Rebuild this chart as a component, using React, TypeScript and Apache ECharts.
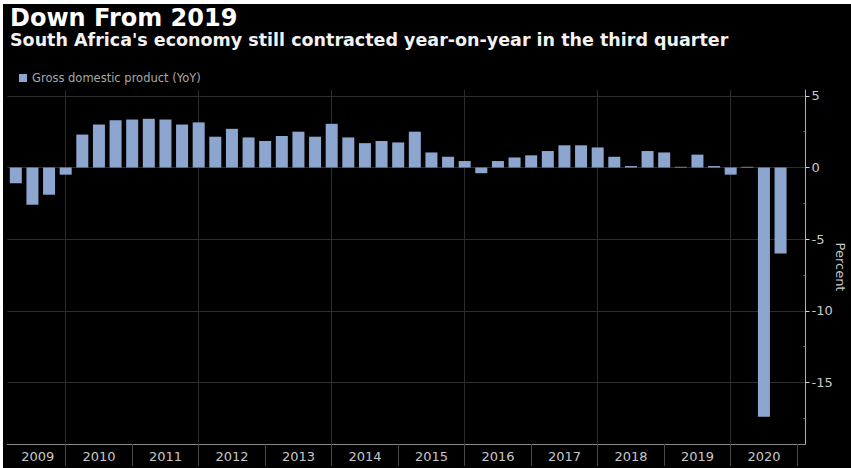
import React, { useEffect, useRef } from "react";
import * as echarts from "echarts";

const quarters = [
  "2009Q1", "2009Q2", "2009Q3", "2009Q4",
  "2010Q1", "2010Q2", "2010Q3", "2010Q4",
  "2011Q1", "2011Q2", "2011Q3", "2011Q4",
  "2012Q1", "2012Q2", "2012Q3", "2012Q4",
  "2013Q1", "2013Q2", "2013Q3", "2013Q4",
  "2014Q1", "2014Q2", "2014Q3", "2014Q4",
  "2015Q1", "2015Q2", "2015Q3", "2015Q4",
  "2016Q1", "2016Q2", "2016Q3", "2016Q4",
  "2017Q1", "2017Q2", "2017Q3", "2017Q4",
  "2018Q1", "2018Q2", "2018Q3", "2018Q4",
  "2019Q1", "2019Q2", "2019Q3", "2019Q4",
  "2020Q1", "2020Q2", "2020Q3", "2020Q4",
];

const gdpYoY: (number | null)[] = [
  -1.1, -2.6, -1.9, -0.5,
  2.3, 3.0, 3.3, 3.35,
  3.4, 3.35, 3.0, 3.15,
  2.15, 2.7, 2.1, 1.85,
  2.2, 2.5, 2.15, 3.05,
  2.1, 1.7, 1.85, 1.75,
  2.5, 1.05, 0.75, 0.45,
  -0.4, 0.45, 0.7, 0.85,
  1.15, 1.55, 1.55, 1.4,
  0.75, 0.1, 1.15, 1.05,
  0.05, 0.9, 0.1, -0.5,
  0.05, -17.4, -6.0, null,
];

const years = [2009, 2010, 2011, 2012, 2013, 2014, 2015, 2016, 2017, 2018, 2019, 2020];
const yTickValues = [5, 0, -5, -10, -15];
const yMinorTickValues = [2.5, -2.5, -7.5, -12.5, -17.5];

const TITLE = "Down From 2019";
const SUBTITLE = "South Africa's economy still contracted year-on-year in the third quarter";
const SERIES_NAME = "Gross domestic product (YoY)";
const Y_NAME = "Percent";

const FONT = '"DejaVu Sans", sans-serif';

export default function App() {
  const ref = useRef<HTMLDivElement>(null);

  useEffect(() => {
    document.body.style.margin = "0";
    const chart = echarts.init(ref.current!, undefined, { renderer: "svg" });
    // time axis geometry: category i (quarter-end) sits at 2009 + (i+1)/4
    const tMin = years[0] + 0.125;
    const tMax = years[years.length - 1] + 1.125;
    const yearTicks = years.map((y) => y + 1);
    const gridYears = years.filter((y) => (y + 1) % 2 === 0).map((y) => y + 1);
    const labelPos = years.map((y, i) => (i === 0 ? y + 0.58 : y + 0.5));

    const option: any = {
      animation: false,
      backgroundColor: "transparent",
      textStyle: { fontFamily: FONT },
      graphic: [
        {
          type: "text",
          left: 10,
          top: 6,
          style: { text: TITLE, fill: "#ffffff", font: `bold 24px ${FONT}`, lineHeight: 24 },
        },
        {
          type: "text",
          left: 10,
          top: 31,
          style: { text: SUBTITLE, fill: "#f2f2f2", font: `bold 17.5px ${FONT}`, lineHeight: 18 },
        },
      ],
      legend: {
        left: 14,
        top: 67,
        icon: "rect",
        itemWidth: 8,
        itemHeight: 8,
        itemGap: 4,
        textStyle: { color: "#a8a8a8", fontSize: 11.5, fontFamily: FONT },
        data: [SERIES_NAME],
      },
      grid: { left: 7.5, right: 45.5, top: 90, bottom: 24, outerBoundsMode: "none", containLabel: false },
      xAxis: [
        {
          type: "category",
          data: quarters,
          boundaryGap: true,
          show: false,
        },
        {
          type: "value",
          min: tMin,
          max: tMax,
          position: "bottom",
          axisLine: { show: true, onZero: false, lineStyle: { color: "#8a8a8a", width: 1 } },
          axisTick: {
            show: true,
            customValues: yearTicks,
            length: 22,
            lineStyle: { color: "#4a4a4a" },
          },
          axisLabel: {
            show: true,
            customValues: labelPos,
            formatter: (v: number) => String(Math.floor(v)),
            color: "#c8c8c8",
            fontSize: 13,
            margin: 6,
            fontFamily: FONT,
          },
          splitLine: { show: false },
        },
        {
          type: "value",
          min: tMin,
          max: tMax,
          position: "bottom",
          axisLine: { show: false },
          axisTick: { show: false, customValues: gridYears },
          axisLabel: { show: false },
          splitLine: { show: true, lineStyle: { color: "#2c2c2c", width: 1 } },
        },
      ],
      yAxis: [
        {
          type: "value",
          position: "right",
          min: -19.3,
          max: 5.41,
          name: Y_NAME,
          nameLocation: "middle",
          nameRotate: -90,
          nameGap: 28,
          nameMoveOverlap: false,
          nameTextStyle: { color: "#c8c8c8", fontSize: 13, fontFamily: FONT },
          axisLine: { show: true, lineStyle: { color: "#b0b0b0", width: 1 } },
          axisTick: {
            show: true,
            customValues: yTickValues,
            length: 4,
            lineStyle: { color: "#d0d0d0" },
          },
          axisLabel: {
            show: true,
            customValues: yTickValues,
            color: "#c8c8c8",
            fontSize: 13,
            margin: 6,
            fontFamily: FONT,
          },
          splitLine: { show: true, lineStyle: { color: "#2c2c2c", width: 1 } },
        },
        {
          type: "value",
          position: "right",
          min: -19.3,
          max: 5.41,
          axisLine: { show: false },
          axisTick: {
            show: true,
            inside: true,
            customValues: yMinorTickValues,
            length: 2,
            lineStyle: { color: "#777777" },
          },
          axisLabel: { show: false },
          splitLine: { show: false },
        },
      ],
      series: [
        {
          name: SERIES_NAME,
          type: "bar",
          xAxisIndex: 0,
          yAxisIndex: 0,
          data: gdpYoY,
          barWidth: 12,
          itemStyle: { color: "#8da6d0" },
        },
      ],
    };
    chart.setOption(option);
    return () => chart.dispose();
  }, []);

  return (
    <div style={{ position: "absolute", left: 0, top: 0, width: 851, height: 468, background: "#ffffff" }}>
      <div style={{ position: "absolute", left: 3, top: 4, width: 848, height: 464, background: "#000000" }} />
      <div ref={ref} style={{ position: "absolute", left: 0, top: 0, width: 851, height: 468 }} />
    </div>
  );
}
